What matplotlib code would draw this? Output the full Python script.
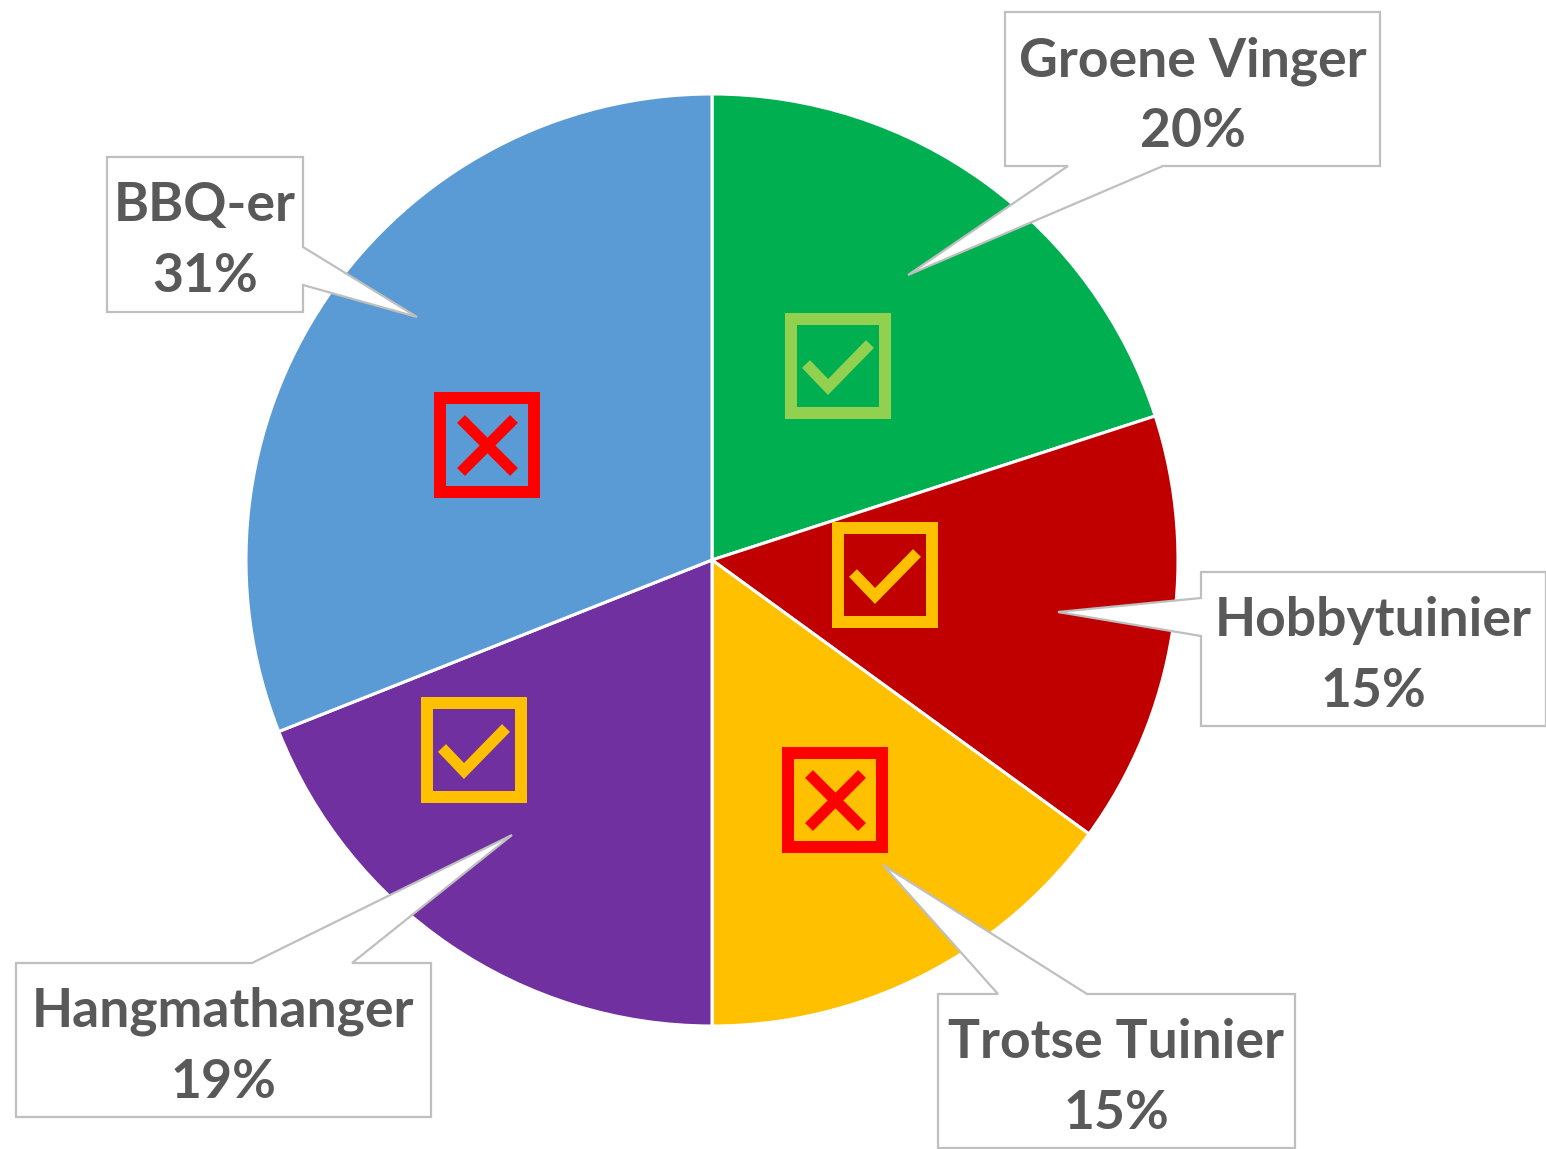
import matplotlib
matplotlib.use("Agg")
import matplotlib.pyplot as plt
from matplotlib.patches import Polygon, Rectangle

categories = ["Groene Vinger", "Hobbytuinier", "Trotse Tuinier", "Hangmathanger", "BBQ-er"]
values = [20, 15, 15, 19, 31]
pct_labels = ["20%", "15%", "15%", "19%", "31%"]
colors = ["#00B050", "#C00000", "#FFC000", "#7030A0", "#5B9BD5"]
marker_kinds = ["check", "check", "cross", "check", "cross"]
marker_colors = ["#92D050", "#FFC000", "#FF0000", "#FFC000", "#FF0000"]

W, H = 1546, 1149
fig = plt.figure(figsize=(W / 100, H / 100), dpi=100)
ax = fig.add_axes([0, 0, 1, 1])

def Y(y):
    return H - y

ax.pie(values, colors=colors, startangle=90, counterclock=False,
       center=(712, Y(560)), radius=466,
       wedgeprops=dict(edgecolor="white", linewidth=2.2))
ax.set_xlim(0, W)
ax.set_ylim(0, H)
ax.set_aspect("equal")
ax.axis("off")

# callout boxes: (x0, y0, x1, y1), pointer side, base (a, b), tip
callouts = [
    ((1005, 12, 1380, 166), "bottom", (1068, 1163), (908, 275)),
    ((1201, 572, 1546, 726), "left", (598, 636), (1058, 612)),
    ((938, 994, 1295, 1148), "top", (998, 1087), (883, 865)),
    ((16, 963, 431, 1117), "top", (252, 352), (512, 835)),
    ((107, 157, 303, 312), "right", (247, 285), (417, 317)),
]

for (box, side, (a, b), tip), cat, pct in zip(callouts, categories, pct_labels):
    x0, y0, x1, y1 = box
    if side == "bottom":
        pts = [(x0, y0), (x1, y0), (x1, y1), (b, y1), tip, (a, y1), (x0, y1)]
    elif side == "top":
        pts = [(x0, y0), (a, y0), tip, (b, y0), (x1, y0), (x1, y1), (x0, y1)]
    elif side == "left":
        pts = [(x0, y0), (x1, y0), (x1, y1), (x0, y1), (x0, b), tip, (x0, a)]
    else:
        pts = [(x0, y0), (x1, y0), (x1, a), tip, (x1, b), (x1, y1), (x0, y1)]
    pts = [(px, Y(py)) for px, py in pts]
    ax.add_patch(Polygon(pts, closed=True, facecolor="white", edgecolor="#BFBFBF",
                         linewidth=1.6, zorder=5, joinstyle="miter"))
    cx = (x0 + x1) / 2
    ax.text(cx, Y(y0 + 64), cat, ha="center", va="baseline", fontsize=38.5,
            fontweight="bold", color="#595959", family="Lato", zorder=6)
    ax.text(cx, Y(y0 + 135), pct, ha="center", va="baseline", fontsize=38.5,
            fontweight="bold", color="#595959", family="Lato", zorder=6)

# status markers (outer box top-left corner in image px)
marker_pos = [(785, 313), (832, 522), (782, 747), (421, 697), (434, 392)]
S = 106
for (mx, my), kind, mc in zip(marker_pos, marker_kinds, marker_colors):
    t = 12
    ax.add_patch(Rectangle((mx + t / 2, Y(my + S - t / 2)), S - t, S - t,
                           facecolor="none", edgecolor=mc, linewidth=t * 0.72, zorder=4,
                           joinstyle="miter"))
    if kind == "check":
        xs = [mx + 21, mx + 43, mx + 85]
        ys = [my + 51, my + 74, my + 31]
        ax.plot(xs, [Y(v) for v in ys], color=mc, linewidth=8,
                solid_joinstyle="miter", solid_capstyle="butt", zorder=4)
    else:
        ax.plot([mx + 27, mx + 80], [Y(my + 27), Y(my + 80)], color=mc,
                linewidth=8, solid_capstyle="butt", zorder=4)
        ax.plot([mx + 27, mx + 80], [Y(my + 80), Y(my + 27)], color=mc,
                linewidth=8, solid_capstyle="butt", zorder=4)

fig.savefig("out.png", dpi=100, facecolor="white")
